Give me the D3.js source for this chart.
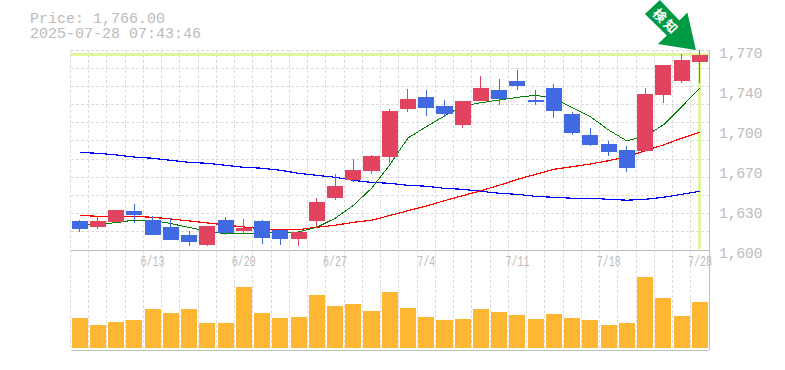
<!DOCTYPE html>
<html>
<head>
<meta charset="utf-8">
<script src="https://cdn.jsdelivr.net/npm/d3@7"></script>
<style>
    html, body { margin: 0; padding: 0; background: #fff; }
    svg { display: block; }
    text { font-family: "Liberation Mono", monospace; fill: #bbb; }
</style>
</head>
<body>
<div id="chart"></div>
<script>
const dates = ["6/9","6/10","6/11","6/12","6/13","6/16","6/17","6/18","6/19","6/20","6/23","6/24","6/25","6/26","6/27","6/30","7/1","7/2","7/3","7/4","7/7","7/8","7/9","7/10","7/11","7/14","7/15","7/16","7/17","7/18","7/22","7/23","7/24","7/25","7/28"];
const dateLabels = ["6/13","6/20","6/27","7/4","7/11","7/18","7/28"];

const opens  = [1624.7,1619.6,1623.8,1633.2,1625.5,1619.6,1612.8,1604.3,1625.5,1616.2,1624.7,1617,1609.4,1624.7,1644.2,1659.5,1667.2,1679,1719.9,1730,1722.4,1706.3,1726.7,1736,1743.7,1727.5,1737.7,1715.6,1697.8,1690.1,1685,1684.2,1731.8,1743.7,1759.8];
const highs  = [1625.5,1629,1634,1639.1,1629,1627.2,1616.2,1620.4,1628,1626.4,1625.5,1617.9,1615.3,1644.2,1664.6,1677.4,1680.8,1719.9,1736.9,1736,1727.5,1726.7,1747.9,1745.4,1753,1736,1741.1,1717.3,1703.7,1692.7,1688.4,1737.7,1757.3,1766.6,1770];
const lows   = [1615.3,1617.9,1623.8,1623,1612.8,1608.5,1603.4,1603.4,1612.8,1614.5,1605.1,1604.3,1603.4,1618.7,1642.5,1657.8,1664.6,1674,1717.3,1713.9,1713,1703.7,1726.7,1723.3,1736,1723.3,1712.2,1697.8,1688.4,1679.9,1666.3,1684.2,1725,1742,1742];
const closes = [1617.9,1624.7,1634,1629.8,1612.8,1608.5,1606.8,1620.4,1614.5,1618.7,1610.2,1609.4,1615.3,1640.8,1654.4,1668,1679.9,1718.2,1728.4,1720.7,1715.6,1726.7,1737.7,1728.4,1739.4,1725.8,1718.2,1699.5,1689.3,1683.3,1669.7,1732.6,1757.3,1761.5,1766];

const ma5  = [1621.3,1622.1,1623.2,1625.5,1625.1,1622.5,1619.1,1616.2,1613.6,1614,1614.2,1615,1615.3,1619.3,1626.9,1637.8,1652.4,1672.3,1695.2,1704.8,1713.9,1722.4,1725.2,1727.5,1729.8,1731.5,1729,1721,1713.3,1702,1692.7,1696.9,1706.3,1721.8,1737.4];
const ma25 = [1629.5,1628.6,1628.6,1628.6,1627.8,1626.4,1624.7,1623,1621.3,1619.6,1617.9,1617.3,1617.3,1619.3,1621,1623.5,1625.3,1629.3,1633.4,1637.4,1641.9,1646.2,1650.4,1655,1660.1,1664.3,1668.6,1670.8,1673.1,1675.9,1679.3,1684.4,1689.3,1695,1700];
const ma75 = [1683,1682.2,1680.8,1679,1678,1676.2,1674.5,1673.7,1672,1670.3,1669.5,1667.8,1665.2,1663.5,1661.8,1659.2,1657.5,1656.7,1655,1654.2,1652.4,1651.6,1649.9,1648.2,1647.3,1645.6,1644.8,1644,1644,1643.1,1642.3,1643.1,1644.8,1647.3,1649.9];

const volumes = [300,230,260,280,390,350,390,250,250,610,350,300,310,530,420,440,370,560,400,310,280,290,390,360,330,290,340,300,280,230,250,710,500,320,460];

const priceTicks = [1600,1634,1668,1702,1736,1770];
const priceLabels = ["1,600","1,630","1,670","1,700","1,740","1,770"];
const lastPrice = 1766;
const headerLines = ["Price: 1,766.00","2025-07-28 07:43:46"];
const arrowLabel = "検知";

const width = 785, height = 370;
const margin = { top: 50, right: 76, bottom: 20, left: 70.5 };
const priceBottom = 250, volumeBottom = 350;
const plotRight = width - margin.right;

const svg = d3.select("#chart").append("svg")
    .attr("width", width)
    .attr("height", height);

// Scales
const x = d3.scaleBand()
    .domain(dates)
    .range([margin.left, plotRight])
    .paddingInner(0.12)
    .paddingOuter(0.06);
const xc = d => x(d) + x.bandwidth() / 2;

const y = d3.scaleLinear()
    .domain([1600, 1770])
    .range([priceBottom, margin.top]);

const yVol = d3.scaleLinear()
    .domain([0, 1000])
    .range([348, 248]);

// Grid
const grid = svg.append("g")
    .attr("stroke", "#dcdcdc")
    .attr("stroke-dasharray", "3 2")
    .attr("shape-rendering", "crispEdges");

const step = x.step();
grid.selectAll(".v")
    .data(dates)
    .join("line")
    .attr("x1", d => xc(d) - step / 2)
    .attr("x2", d => xc(d) - step / 2)
    .attr("y1", margin.top)
    .attr("y2", volumeBottom);

grid.selectAll(".h")
    .data(d3.range(0, 12))
    .join("line")
    .attr("x1", margin.left)
    .attr("x2", plotRight)
    .attr("y1", i => priceBottom - i * (priceBottom - margin.top) / 11)
    .attr("y2", i => priceBottom - i * (priceBottom - margin.top) / 11);

// Frame
const frame = svg.append("g")
    .attr("stroke", "#c0c0c0")
    .attr("shape-rendering", "crispEdges");
frame.append("line").attr("x1", margin.left).attr("x2", plotRight).attr("y1", priceBottom + 0.5).attr("y2", priceBottom + 0.5);
frame.append("line").attr("x1", margin.left).attr("x2", plotRight).attr("y1", volumeBottom + 0.5).attr("y2", volumeBottom + 0.5);
frame.append("line").attr("x1", plotRight).attr("x2", plotRight).attr("y1", margin.top).attr("y2", volumeBottom);

// Current price highlight
const lastDate = dates[dates.length - 1];
const hlY = Math.round(y(lastPrice)) - 0.5;
const hlX = Math.floor(xc(lastDate)) + 0.5;
svg.append("line")
    .attr("x1", margin.left).attr("x2", plotRight)
    .attr("y1", hlY).attr("y2", hlY)
    .attr("stroke", "#dff59f").attr("stroke-width", 3);
svg.append("line")
    .attr("x1", hlX).attr("x2", hlX)
    .attr("y1", hlY).attr("y2", priceBottom - 1)
    .attr("stroke", "#dff59f").attr("stroke-width", 3);

// Moving averages
const line = d3.line()
    .x((d, i) => xc(dates[i]))
    .y(d => y(d));

[[ma75, "#0000ff", 1.2], [ma25, "#ff0000", 1.2], [ma5, "#008000", 1]].forEach(([values, color, w]) => {
    svg.append("path")
        .datum(values)
        .attr("fill", "none")
        .attr("stroke", color)
        .attr("stroke-width", w)
        .attr("shape-rendering", "crispEdges")
        .attr("d", line);
});

// Candles
const upColor = "#e2445f", downColor = "#4169e1";
const candles = svg.append("g")
    .attr("shape-rendering", "crispEdges")
    .selectAll("g")
    .data(dates)
    .join("g")
    .attr("fill", (d, i) => closes[i] >= opens[i] ? upColor : downColor)
    .attr("stroke", (d, i) => closes[i] >= opens[i] ? upColor : downColor);

candles.append("line")
    .attr("x1", d => xc(d))
    .attr("x2", d => xc(d))
    .attr("y1", (d, i) => y(highs[i]))
    .attr("y2", (d, i) => y(lows[i]));

candles.append("rect")
    .attr("x", d => x(d))
    .attr("width", x.bandwidth())
    .attr("y", (d, i) => y(Math.max(opens[i], closes[i])))
    .attr("height", (d, i) => Math.abs(y(opens[i]) - y(closes[i])))
    .attr("stroke", "none");

// Volume
svg.append("g")
    .attr("shape-rendering", "crispEdges")
    .selectAll("rect")
    .data(volumes)
    .join("rect")
    .attr("x", (d, i) => x(dates[i]))
    .attr("width", x.bandwidth())
    .attr("y", d => yVol(d))
    .attr("height", d => yVol(0) - yVol(d))
    .attr("fill", "#ffb733");

// Axes
const xAxis = svg.append("g")
    .attr("transform", `translate(0,${priceBottom})`)
    .call(d3.axisBottom(x).tickValues(dateLabels).tickSize(0).tickPadding(6));
xAxis.select(".domain").remove();
xAxis.selectAll("text")
    .style("font-size", "14px")
    .attr("lengthAdjust", "spacingAndGlyphs")
    .attr("textLength", d => d.length * 6);

const yAxis = svg.append("g")
    .attr("transform", `translate(${plotRight},0)`)
    .call(d3.axisRight(y).tickValues(priceTicks)
        .tickFormat((d, i) => priceLabels[i]).tickSize(0).tickPadding(10));
yAxis.select(".domain").remove();
yAxis.selectAll("text")
    .style("font-size", "14.5px")
    .attr("dy", "0.55em");

// Header
svg.append("g")
    .selectAll("text")
    .data(headerLines)
    .join("text")
    .attr("x", 30)
    .attr("y", (d, i) => 23 + i * 15)
    .style("font-size", "15px")
    .text(d => d);

// Arrow, anchored on the high of the last candle
const arrow = svg.append("g")
    .attr("transform", `translate(${xc(lastDate) - 4},${y(d3.max(highs))})`);
arrow.append("polygon")
    .attr("points", "0,0 -38,-6 -29,-14.5 -51,-36 -36,-50 -16.5,-29.5 -8.5,-37.5")
    .attr("fill", "#009a44");
arrow.append("text")
    .attr("transform", "translate(-30,-28) rotate(45)")
    .attr("text-anchor", "middle")
    .attr("dy", "0.35em")
    .attr("letter-spacing", "2.5")
    .style("font-family", '"Noto Sans CJK JP", sans-serif')
    .style("font-size", "13px")
    .style("font-weight", "700")
    .style("fill", "#fff")
    .text(arrowLabel);
</script>
</body>
</html>
